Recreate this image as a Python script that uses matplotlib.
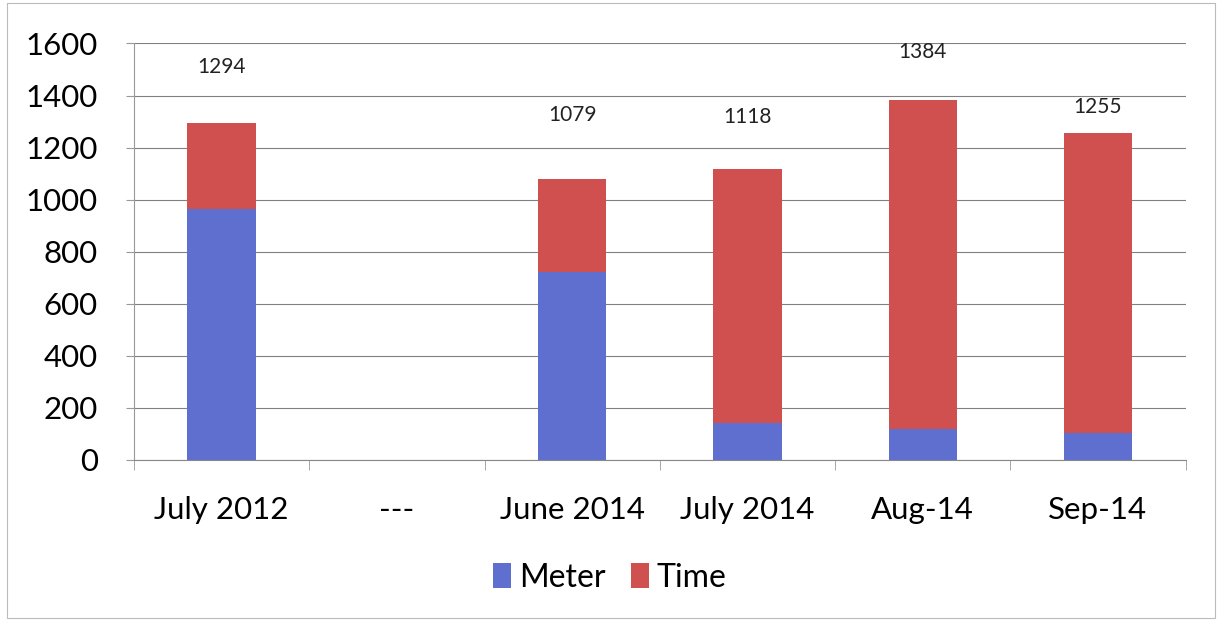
import numpy as np
import matplotlib
matplotlib.use("Agg")
import matplotlib.pyplot as plt
from matplotlib.patches import Rectangle
from matplotlib.ticker import FixedLocator

plt.rcParams['font.family'] = ['Lato', 'DejaVu Sans']

# data
categories = ["July 2012", "---", "June 2014", "July 2014", "Aug-14", "Sep-14"]
meter = [966, 0, 723, 141, 118, 105]
time_ = [328, 0, 356, 977, 1266, 1150]
totals = ["1294", "", "1079", "1118", "1384", "1255"]

blue = '#5f6fcf'
red = '#d05050'

fig = plt.figure(figsize=(12.2, 6.21), dpi=100)
ax = fig.add_axes([0.1098, 0.2593, 0.862, 0.6707])

x = np.arange(len(categories))
ax.bar(x, meter, width=0.39, color=blue, label="Meter")
ax.bar(x, time_, width=0.39, bottom=meter, color=red, label="Time")

# label heights as placed in the original (not right on top of the bars)
label_pad = [216, 0, 246, 200, 183, 101]
for i, t in enumerate(totals):
    if t:
        top = meter[i] + time_[i]
        ax.text(x[i], top + label_pad[i], t, ha='center', va='center',
                fontsize=15, color='#222222')

ax.set_xlim(-0.5, len(categories) - 0.5)
ax.set_ylim(0, 1600)
ax.set_yticks(range(0, 1601, 200))
ax.set_xticks(x)
ax.set_xticklabels(categories)
ax.xaxis.set_minor_locator(FixedLocator(np.arange(-0.5, len(categories), 1.0)))
ax.tick_params(axis='x', which='major', length=0, pad=26, labelsize=22.5)
ax.tick_params(axis='x', which='minor', length=7, color='#999999')
ax.tick_params(axis='y', length=6, color='#999999', labelsize=22.5, pad=20)

ax.grid(axis='y', color='#808080', linewidth=0.8)
ax.set_axisbelow(True)
for s in ['top', 'right']:
    ax.spines[s].set_visible(False)
ax.spines['left'].set_color('#999999')
ax.spines['bottom'].set_color('#888888')

leg = fig.legend(loc='center', bbox_to_anchor=(0.5, 0.07), ncol=2, frameon=False,
                 fontsize=23, handlelength=0.55, handleheight=0.8,
                 handletextpad=0.25, columnspacing=0.8)

# faint chart border
fig.patches.append(Rectangle((0.006, 0.005), 0.99, 0.99, transform=fig.transFigure,
                             fill=False, edgecolor='#bbbbbb', linewidth=0.8))

fig.savefig("out.png", dpi=100)
